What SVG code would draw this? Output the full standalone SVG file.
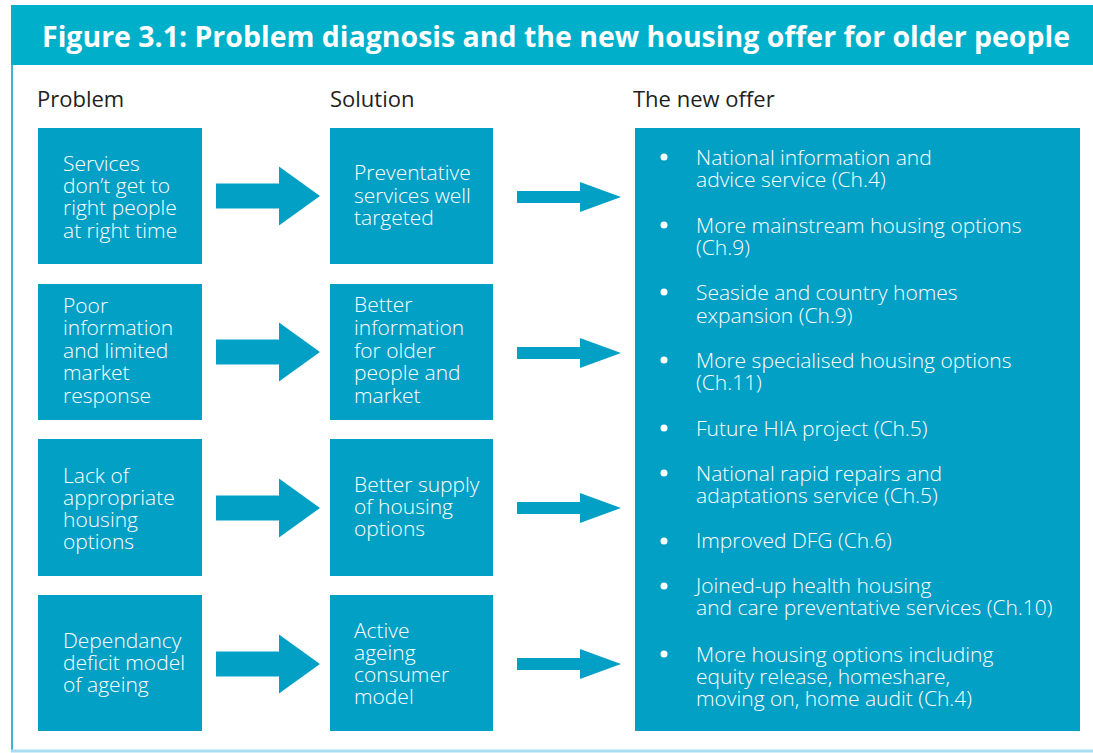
<svg xmlns="http://www.w3.org/2000/svg" width="1093" height="753" viewBox="0 0 1093 753">
<style>
.box{fill:#03a0c6}
.t{font-family:"Open Sans","Noto Sans","Liberation Sans",sans-serif;font-size:21px;font-weight:300;fill:#ffffff}
.lab{font-family:"Open Sans","Noto Sans","Liberation Sans",sans-serif;font-size:22px;fill:#231f20}
.title{font-family:"Open Sans","Noto Sans","Liberation Sans",sans-serif;font-size:28px;font-weight:bold;fill:#ffffff}
.arrow{fill:#03a0c6}
.dot{fill:#ffffff}
</style>
<defs>
<path id="big" d="M0,-12.5 H63 V-29.5 L104,0 L63,29.5 V12.5 H0 Z"/>
<path id="small" d="M0,-6 H63 V-15 L104,0 L63,15 V6 H0 Z"/>
</defs>
<rect x="0" y="0" width="1093" height="753" fill="#ffffff"/>
<g id="frame">
<line x1="12" y1="5" x2="12" y2="751" stroke="#3cb6d0" stroke-width="2"/>
<line x1="11" y1="751" x2="1093" y2="751" stroke="#a8def0" stroke-width="3"/>
<rect x="11" y="5" width="1082" height="60" fill="#00b0cb"/>
<text class="title" x="42" y="47" textLength="1028" lengthAdjust="spacingAndGlyphs">Figure 3.1: Problem diagnosis and the new housing offer for older people</text>
</g>
<g id="labels">
<text class="lab" x="37" y="107">Problem</text>
<text class="lab" x="330" y="107">Solution</text>
<text class="lab" x="633" y="107">The new offer</text>
</g>
<g id="connectors">
<use href="#big" class="arrow" x="216" y="196"/>
<use href="#big" class="arrow" x="216" y="352"/>
<use href="#big" class="arrow" x="216" y="508"/>
<use href="#big" class="arrow" x="216" y="664"/>
<use href="#small" class="arrow" x="517" y="197"/>
<use href="#small" class="arrow" x="517" y="353"/>
<use href="#small" class="arrow" x="517" y="508"/>
<use href="#small" class="arrow" x="517" y="664"/>
</g>
<g id="p1"><rect class="box" x="38" y="128" width="164" height="136"/>
<text class="t" x="63" y="171">Services</text><text class="t" x="63" y="193">don’t get to</text><text class="t" x="63" y="215">right people</text><text class="t" x="63" y="238">at right time</text></g>
<g id="p2"><rect class="box" x="38" y="284" width="164" height="136"/>
<text class="t" x="63" y="313">Poor</text><text class="t" x="63" y="335">information</text><text class="t" x="63" y="358">and limited</text><text class="t" x="63" y="380">market</text><text class="t" x="63" y="403">response</text></g>
<g id="p3"><rect class="box" x="38" y="439" width="164" height="137"/>
<text class="t" x="63" y="483">Lack of</text><text class="t" x="63" y="505">appropriate</text><text class="t" x="63" y="527">housing</text><text class="t" x="63" y="549">options</text></g>
<g id="p4"><rect class="box" x="38" y="595" width="164" height="136"/>
<text class="t" x="63" y="648">Dependancy</text><text class="t" x="63" y="670">deficit model</text><text class="t" x="63" y="692">of ageing</text></g>
<g id="s1"><rect class="box" x="330" y="128" width="163" height="136"/>
<text class="t" x="354" y="180">Preventative</text><text class="t" x="354" y="203">services well</text><text class="t" x="354" y="225">targeted</text></g>
<g id="s2"><rect class="box" x="330" y="284" width="163" height="136"/>
<text class="t" x="354" y="312">Better</text><text class="t" x="354" y="335">information</text><text class="t" x="354" y="358">for older</text><text class="t" x="354" y="380">people and</text><text class="t" x="354" y="403">market</text></g>
<g id="s3"><rect class="box" x="330" y="439" width="163" height="137"/>
<text class="t" x="354" y="492">Better supply</text><text class="t" x="354" y="514">of housing</text><text class="t" x="354" y="536">options</text></g>
<g id="s4"><rect class="box" x="330" y="595" width="163" height="136"/>
<text class="t" x="354" y="638">Active</text><text class="t" x="354" y="660">ageing</text><text class="t" x="354" y="682">consumer</text><text class="t" x="354" y="704">model</text></g>
<g id="offer"><rect class="box" x="635" y="128" width="445" height="603"/>
<circle class="dot" cx="664" cy="157" r="3.5"/><text class="t" x="696" y="165">National information and</text><text class="t" x="696" y="187">advice service (Ch.4)</text>
<circle class="dot" cx="664" cy="225" r="3.5"/><text class="t" x="696" y="233">More mainstream housing options</text><text class="t" x="696" y="255">(Ch.9)</text>
<circle class="dot" cx="664" cy="292" r="3.5"/><text class="t" x="696" y="300">Seaside and country homes</text><text class="t" x="696" y="323">expansion (Ch.9)</text>
<circle class="dot" cx="664" cy="360" r="3.5"/><text class="t" x="696" y="368">More specialised housing options</text><text class="t" x="696" y="390">(Ch.11)</text>
<circle class="dot" cx="664" cy="428" r="3.5"/><text class="t" x="696" y="436">Future HIA project (Ch.5)</text>
<circle class="dot" cx="664" cy="473" r="3.5"/><text class="t" x="696" y="481">National rapid repairs and</text><text class="t" x="696" y="503">adaptations service (Ch.5)</text>
<circle class="dot" cx="664" cy="541" r="3.5"/><text class="t" x="696" y="548">Improved DFG (Ch.6)</text>
<circle class="dot" cx="664" cy="586" r="3.5"/><text class="t" x="696" y="593">Joined-up health housing</text><text class="t" x="696" y="615">and care preventative services (Ch.10)</text>
<circle class="dot" cx="664" cy="654" r="3.5"/><text class="t" x="696" y="662">More housing options including</text><text class="t" x="696" y="684">equity release, homeshare,</text><text class="t" x="696" y="706">moving on, home audit (Ch.4)</text>
</g>
</svg>
